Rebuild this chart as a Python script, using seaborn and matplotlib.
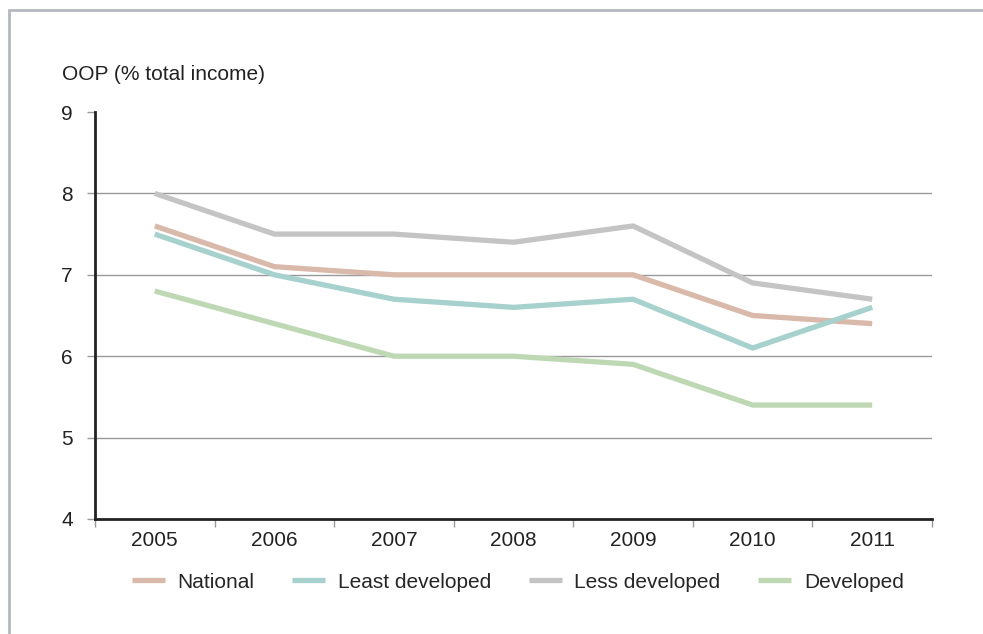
import matplotlib
matplotlib.use("Agg")
import matplotlib.pyplot as plt
import seaborn as sns
import pandas as pd
import numpy as np
from matplotlib.patches import Rectangle
from matplotlib.ticker import FixedLocator

years = ["2005", "2006", "2007", "2008", "2009", "2010", "2011"]
national = [7.6, 7.1, 7.0, 7.0, 7.0, 6.5, 6.4]
least_developed = [7.5, 7.0, 6.7, 6.6, 6.7, 6.1, 6.6]
less_developed = [8.0, 7.5, 7.5, 7.4, 7.6, 6.9, 6.7]
developed = [6.8, 6.4, 6.0, 6.0, 5.9, 5.4, 5.4]
series_names = ["National", "Least developed", "Less developed", "Developed"]
colors = ["#d9b9a9", "#a6d1cd", "#c4c4c4", "#bfd8b4"]

sns.set_theme(style="white")
plt.rcParams['font.family'] = ['Liberation Sans', 'DejaVu Sans']

rows = []
for name, vals in zip(series_names, [national, least_developed, less_developed, developed]):
    for i, (y, v) in enumerate(zip(years, vals)):
        rows.append({"pos": i, "year": y, "value": v, "series": name})
df = pd.DataFrame(rows)

FS = 15
fig = plt.figure(figsize=(9.83, 6.34), dpi=100)
ax = fig.add_axes([95/983, 1-519/634, (932-95)/983, (519-112)/634])

sns.lineplot(data=df, x="pos", y="value", hue="series", hue_order=series_names,
             palette=colors, linewidth=3.8, ax=ax, legend=True, solid_capstyle="butt")

ax.set_xlim(-0.5, 6.5)
ax.set_ylim(4, 9)
ax.set_yticks([4, 5, 6, 7, 8, 9])
ax.set_yticklabels(["4", "5", "6", "7", "8", "9"], fontsize=FS, color="#222222")
ax.set_xticks(range(len(years)))
ax.set_xticklabels(years, fontsize=FS, color="#222222")
ax.xaxis.set_minor_locator(FixedLocator(np.arange(-0.5, 7.0, 1.0)))
ax.tick_params(axis="x", which="major", length=0, pad=9)
ax.tick_params(axis="x", which="minor", length=6, width=1, color="#999999", bottom=True)
ax.tick_params(axis="y", which="major", length=6, width=1, color="#999999", left=True, pad=10)
ax.set_xlabel("")
ax.set_ylabel("")

for v in [5, 6, 7, 8]:
    ax.axhline(v, color="#999999", linewidth=1.0, zorder=0)

for s in ["top", "right"]:
    ax.spines[s].set_visible(False)
for s in ["left", "bottom"]:
    ax.spines[s].set_visible(True)
    ax.spines[s].set_color("#222222")
    ax.spines[s].set_linewidth(2.0)

handles, labels = ax.get_legend_handles_labels()
ax.legend(handles, labels, loc="center", bbox_to_anchor=(0.505, -0.155), ncol=4,
          frameon=False, fontsize=FS, handlelength=1.6, columnspacing=1.8,
          handletextpad=0.6)

fig.text(62/983, 1-75/634, "OOP (% total income)", fontsize=FS, color="#222222",
         ha="left", va="center")

fig.patches.append(Rectangle((9/983, -0.1), 1.2, 1-10/634+0.1, transform=fig.transFigure,
                             fill=False, edgecolor="#b4b8c0", linewidth=2.0))

fig.savefig("out.png", dpi=100)
